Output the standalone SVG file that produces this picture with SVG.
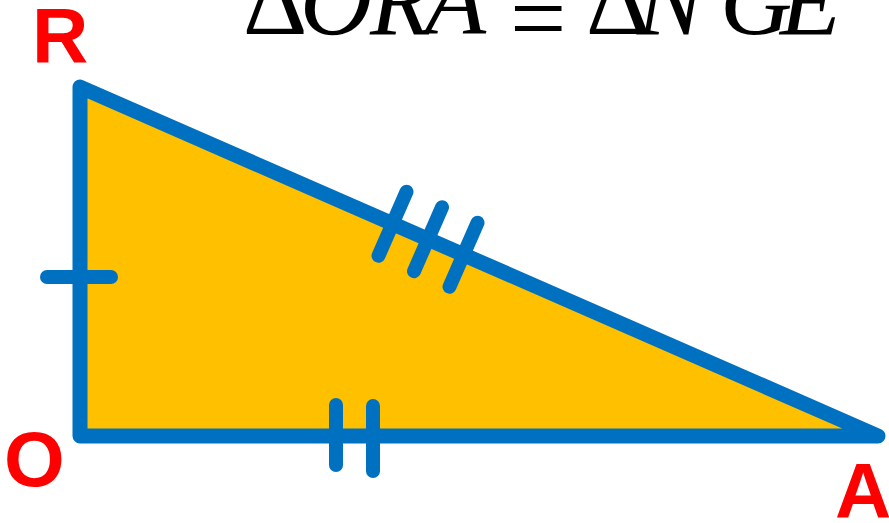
<svg xmlns="http://www.w3.org/2000/svg" width="889" height="523" viewBox="0 0 889 523">
<style>
.lbl{font-family:"Liberation Sans",Arial,sans-serif;font-weight:bold;font-size:78px;fill:#FF0000}
.eq{font-family:"Liberation Serif","Times New Roman",serif;font-size:100px;fill:#000}
.it{font-style:italic}
.tick{stroke:#0070C0;stroke-width:14;stroke-linecap:round;fill:none}
</style>
<rect width="889" height="523" fill="#FFFFFF"/>
<g id="title">
<text class="eq" y="34"><tspan x="243">Δ</tspan><tspan class="it" x="300">O</tspan><tspan class="it" x="370">R</tspan><tspan class="it" x="425">A</tspan><tspan x="510" y="52">=</tspan><tspan x="586" y="34">Δ</tspan><tspan class="it" x="637">N</tspan><tspan class="it" x="720">G</tspan><tspan class="it" x="780">E</tspan></text>
</g>
<g id="triangle">
<polygon points="80,87 80,436 878,436" fill="#FFC000" stroke="#0070C0" stroke-width="15" stroke-linejoin="round"/>
</g>
<g id="ticks">
<line class="tick" x1="47" y1="277" x2="111" y2="277"/>
<line class="tick" x1="336" y1="405" x2="336" y2="465"/>
<line class="tick" x1="373" y1="406" x2="373" y2="471"/>
<line class="tick" x1="406.5" y1="191.7" x2="378.5" y2="255.7"/>
<line class="tick" x1="442" y1="207.2" x2="414" y2="271.2"/>
<line class="tick" x1="477.5" y1="222.7" x2="449.5" y2="286.7"/>
</g>
<g id="label-R"><text class="lbl" x="32" y="62">R</text></g>
<g id="label-O"><text class="lbl" x="4" y="486">O</text></g>
<g id="label-A"><text class="lbl" x="835" y="518">A</text></g>
</svg>
